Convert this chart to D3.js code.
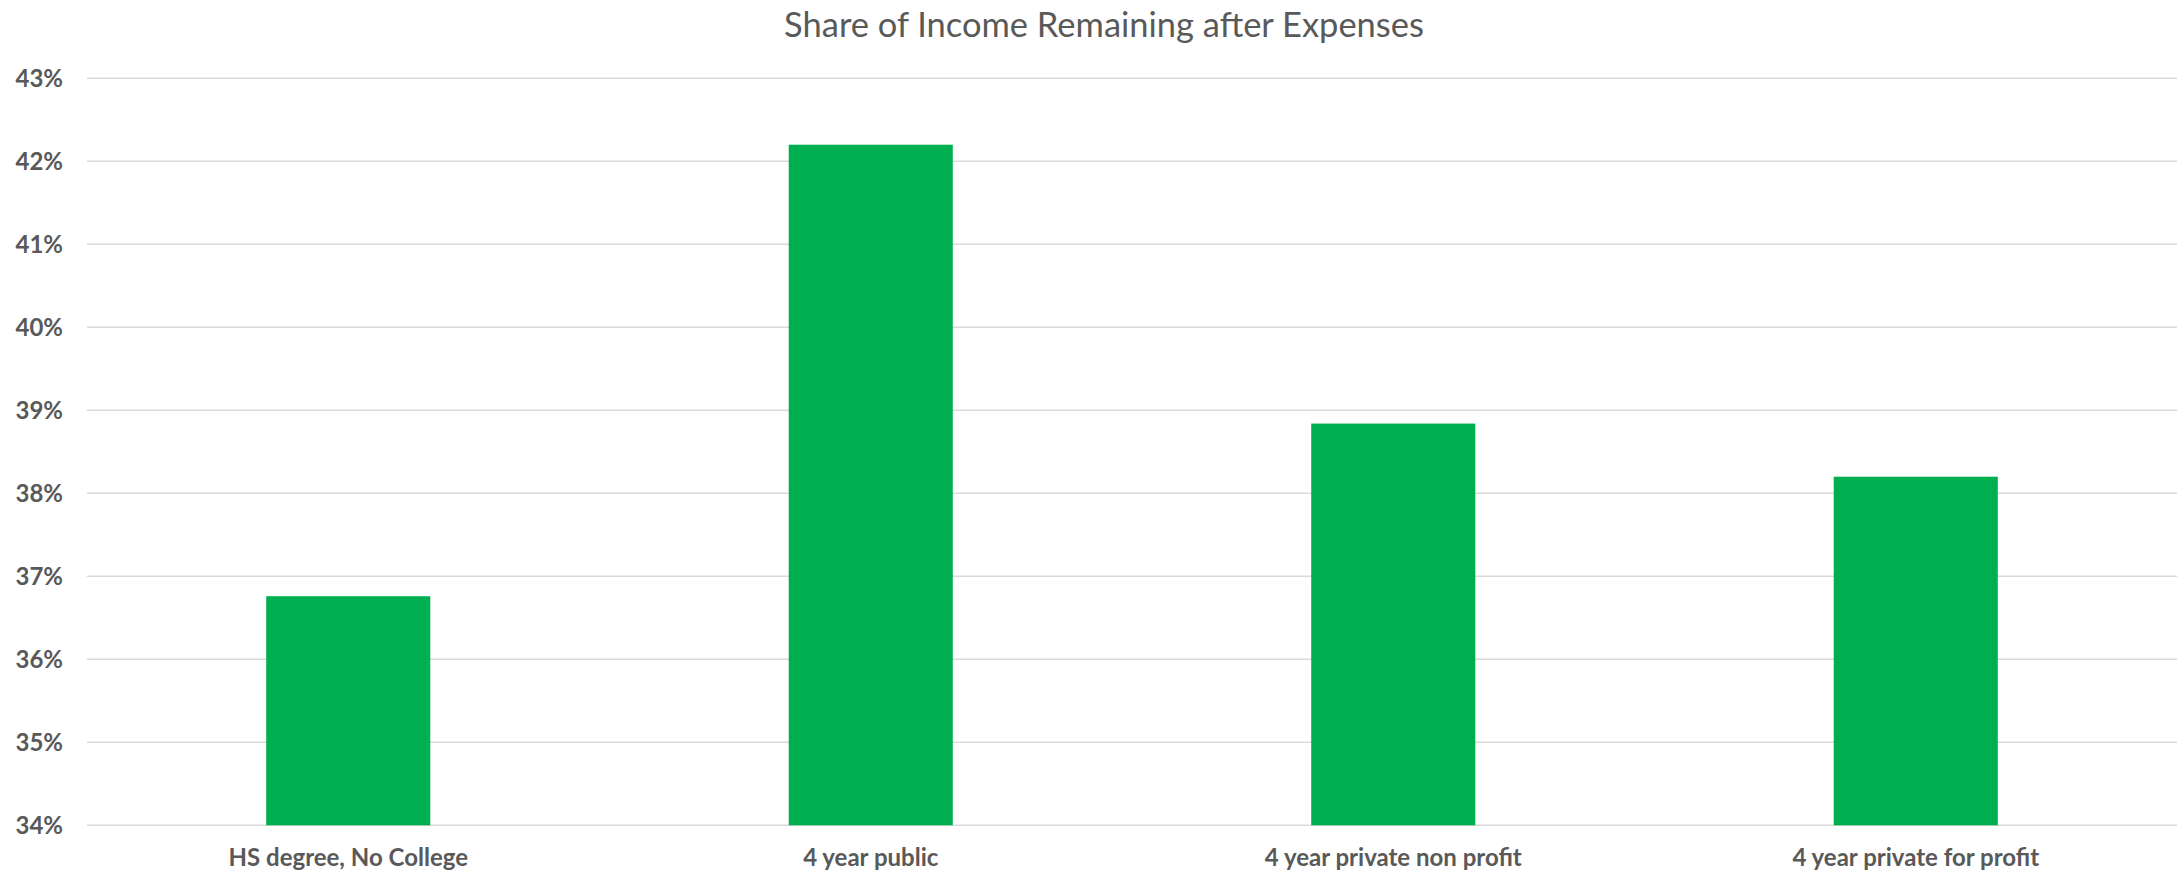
<!DOCTYPE html>
<html>
<head>
<meta charset="utf-8">
<script src="https://cdn.jsdelivr.net/npm/d3@7"></script>
<style>
  html, body { margin: 0; padding: 0; background: #fff; }
  svg { display: block; }
</style>
</head>
<body>
<div id="chart"></div>
<script>
const categories = ["HS degree, No College", "4 year public", "4 year private non profit", "4 year private for profit"];
const values = [36.76, 42.20, 38.84, 38.20];
const yTicks = [34, 35, 36, 37, 38, 39, 40, 41, 42, 43];
const title = "Share of Income Remaining after Expenses";

const W = 2183, H = 876;
const margin = { left: 87, right: 6, top: 78.3, bottom: 876 - 825.3 };

const svg = d3.select("#chart").append("svg").attr("width", W).attr("height", H);

const x = d3.scaleBand()
  .domain(categories)
  .range([margin.left, W - margin.right])
  .paddingInner(0.686)
  .paddingOuter(0.343);

const y = d3.scaleLinear()
  .domain([34, 43])
  .range([H - margin.bottom, margin.top]);

// gridlines
svg.append("g")
  .selectAll("line")
  .data(yTicks)
  .join("line")
  .attr("x1", margin.left)
  .attr("x2", W - margin.right)
  .attr("y1", d => y(d))
  .attr("y2", d => y(d))
  .attr("stroke", "#d9d9d9")
  .attr("stroke-width", 1.6);

// bars
svg.append("g")
  .selectAll("rect")
  .data(values)
  .join("rect")
  .attr("x", (d, i) => x(categories[i]))
  .attr("width", x.bandwidth())
  .attr("y", d => y(d))
  .attr("height", d => y(34) - y(d))
  .attr("fill", "#00af50");

// y axis
const yAxis = d3.axisLeft(y)
  .tickValues(yTicks)
  .tickFormat(d => d + "%")
  .tickSize(0)
  .tickPadding(0);
const gy = svg.append("g")
  .attr("transform", `translate(63,0)`)
  .call(yAxis);
gy.select(".domain").remove();
gy.selectAll("text")
  .attr("fill", "#595959")
  .attr("font-family", "Lato, 'Open Sans', sans-serif")
  .attr("font-weight", "bold")
  .attr("font-size", "24px")
  .attr("dy", "0.35em");

// x axis
const xAxis = d3.axisBottom(x).tickSize(0).tickPadding(0);
const gx = svg.append("g")
  .attr("transform", `translate(0,${y(34)})`)
  .call(xAxis);
gx.select(".domain").remove();
gx.selectAll("text")
  .attr("fill", "#595959")
  .attr("font-family", "Lato, 'Open Sans', sans-serif")
  .attr("font-weight", "bold")
  .attr("font-size", "24px")
  .attr("y", 41)
  .attr("dy", 0);

// title
const t = svg.append("text")
  .attr("x", 1104)
  .attr("y", 37)
  .attr("text-anchor", "middle")
  .attr("fill", "#595959")
  .attr("font-family", "Lato, 'Open Sans', sans-serif")
  .attr("font-weight", 400)
  .attr("font-size", "30px")
  .text(title);
// fit title width to ~640px
const tw = t.node().getComputedTextLength();
t.attr("font-size", (30 * 640 / tw).toFixed(2) + "px");
</script>
</body>
</html>
